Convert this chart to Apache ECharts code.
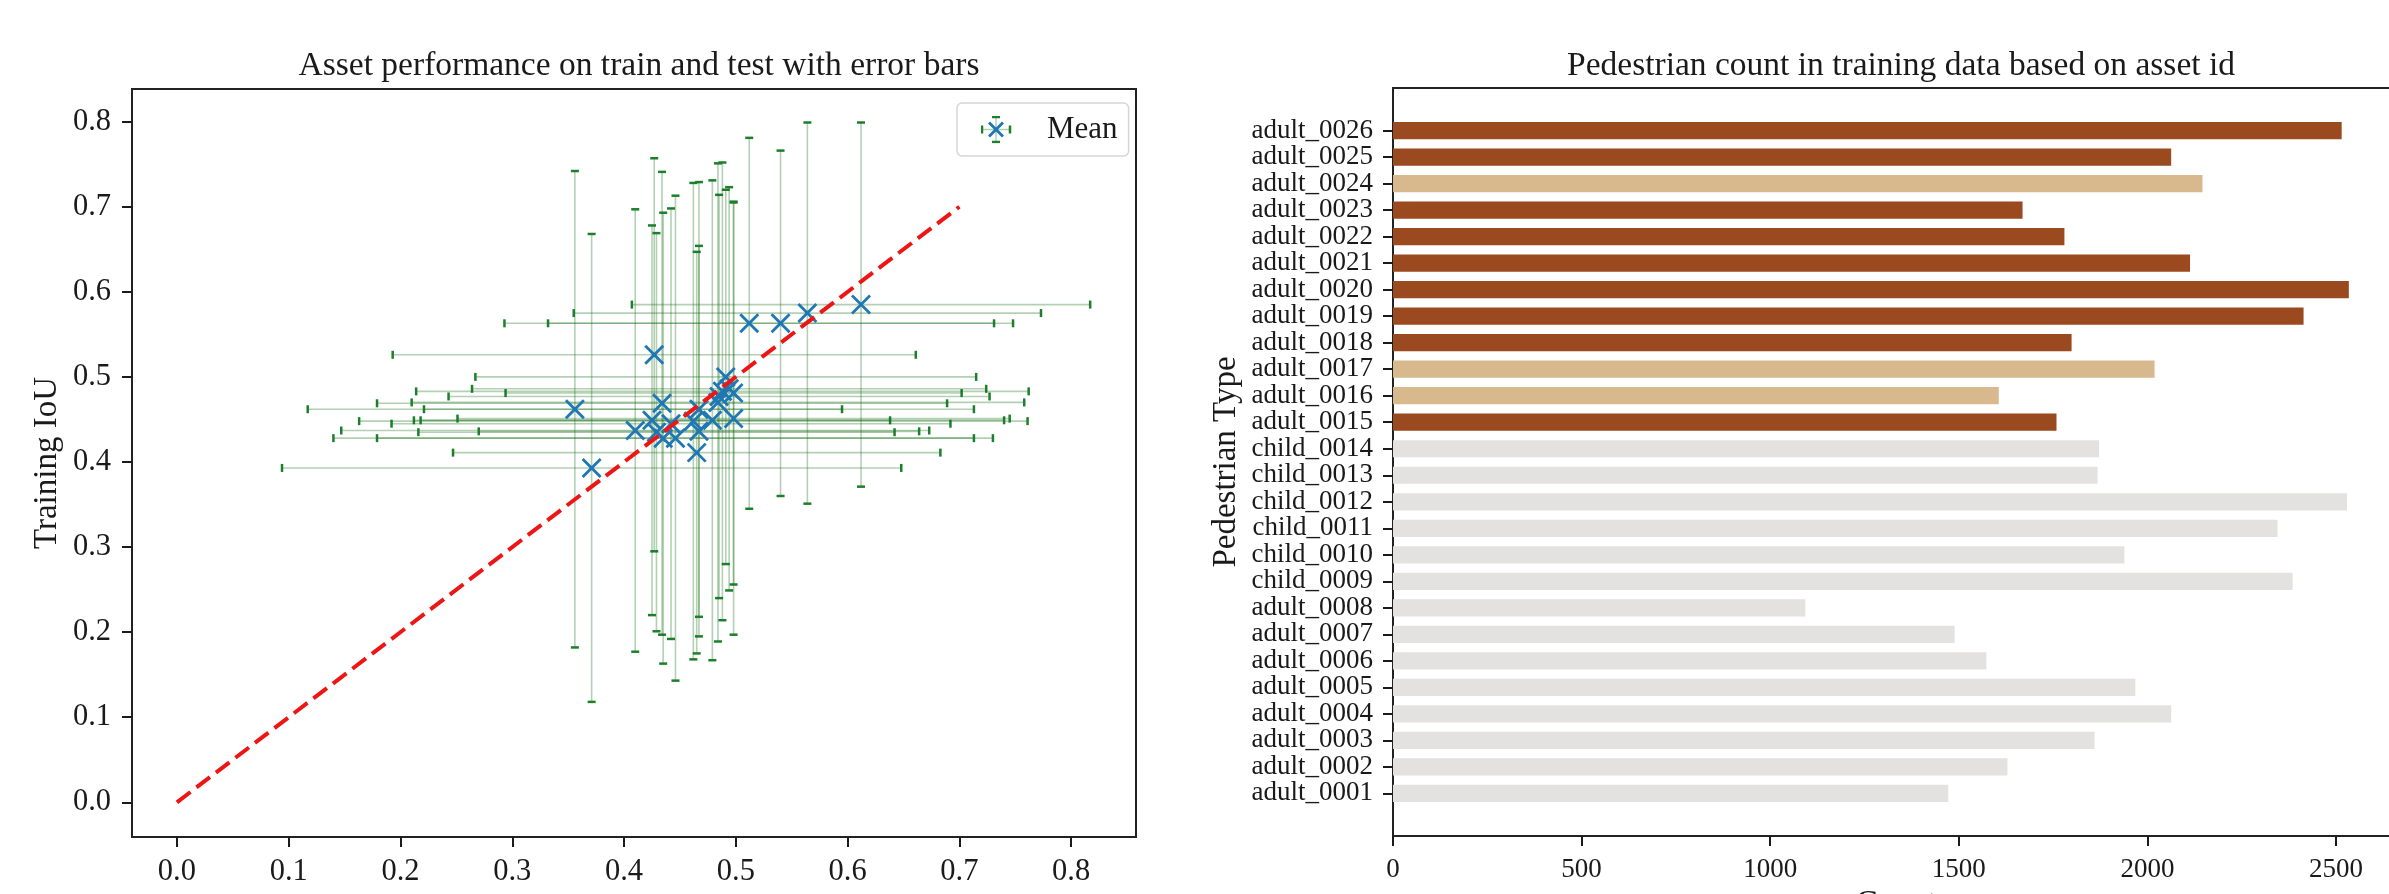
<!DOCTYPE html>
<html lang="en">
<head>
<meta charset="UTF-8">
<title>Asset performance / pedestrian count</title>
<script src="https://cdn.jsdelivr.net/npm/echarts@6/dist/echarts.min.js"></script>
<style>
html, body { margin: 0; padding: 0; background: #fff; }
#chart { width: 2389px; height: 894px; }
</style>
</head>
<body>
<div id="chart"></div>
<script>
// left: mean IoU per asset (test on x, train on y) with std as error bars
var meanX = [0.356, 0.371, 0.410, 0.427, 0.425, 0.429, 0.434, 0.435, 0.442, 0.446, 0.462, 0.467, 0.465,
             0.467, 0.479, 0.485, 0.491, 0.498, 0.494, 0.498, 0.484, 0.512, 0.540, 0.564, 0.612, 0.488];
var meanY = [0.462, 0.393, 0.437, 0.526, 0.449, 0.435, 0.469, 0.428, 0.445, 0.428, 0.448, 0.462, 0.411,
             0.436, 0.449, 0.477, 0.500, 0.481, 0.486, 0.451, 0.470, 0.563, 0.563, 0.575, 0.585, 0.483];
var errX  = [0.239, 0.277, 0.263, 0.234, 0.213, 0.213, 0.255, 0.295, 0.250, 0.267, 0.299, 0.246, 0.218,
             0.197, 0.261, 0.242, 0.224, 0.204, 0.230, 0.247, 0.274, 0.219, 0.208, 0.209, 0.205, 0.274];
var errY  = [0.280, 0.275, 0.260, 0.231, 0.229, 0.234, 0.272, 0.265, 0.253, 0.285, 0.280, 0.267, 0.236,
             0.218, 0.282, 0.237, 0.220, 0.225, 0.237, 0.254, 0.281, 0.218, 0.203, 0.224, 0.214, 0.269];
var diagX = [0, 0.7];
var diagY = [0, 0.7];
var iouTicks = [0, 0.1, 0.2, 0.3, 0.4, 0.5, 0.6, 0.7, 0.8];

// right: pedestrian count per asset id (bottom to top)
var pedTypes = ['adult_0001', 'adult_0002', 'adult_0003', 'adult_0004', 'adult_0005', 'adult_0006',
                'adult_0007', 'adult_0008', 'child_0009', 'child_0010', 'child_0011', 'child_0012',
                'child_0013', 'child_0014', 'adult_0015', 'adult_0016', 'adult_0017', 'adult_0018',
                'adult_0019', 'adult_0020', 'adult_0021', 'adult_0022', 'adult_0023', 'adult_0024',
                'adult_0025', 'adult_0026'];
var pedCount = [1472, 1629, 1860, 2063, 1968, 1573, 1489, 1093, 2385, 1939, 2345, 2529,
                1868, 1872, 1759, 1606, 2019, 1799, 2414, 2534, 2113, 1780, 1669, 2146, 2063, 2515];
var pedGroup = [0, 0, 0, 0, 0, 0, 0, 0, 0, 0, 0, 0, 0, 0, 2, 1, 1, 2, 2, 2, 2, 2, 2, 1, 2, 2];
var countTicks = [0, 500, 1000, 1500, 2000, 2500];

var groupColor = ['#e3e2e0', '#d8b98d', '#9a4a1e'];
var BAR_H = 0.65;   // bar thickness in category units
var FONT = 'Liberation Serif';
var INK = '#1a1a1a';

var legendSvg =
  '<svg xmlns="http://www.w3.org/2000/svg" width="61" height="28" viewBox="0 0 61 28">' +
  '<line x1="1" y1="14" x2="29" y2="14" stroke="#1b7f2b" stroke-opacity="0.35" stroke-width="1.5"/>' +
  '<line x1="15" y1="1" x2="15" y2="27" stroke="#1b7f2b" stroke-opacity="0.35" stroke-width="1.5"/>' +
  '<line x1="1" y1="10" x2="1" y2="18" stroke="#1b7f2b" stroke-width="2.5"/>' +
  '<line x1="29" y1="10" x2="29" y2="18" stroke="#1b7f2b" stroke-width="2.5"/>' +
  '<line x1="11" y1="1.5" x2="19" y2="1.5" stroke="#1b7f2b" stroke-width="2.5"/>' +
  '<line x1="11" y1="26.5" x2="19" y2="26.5" stroke="#1b7f2b" stroke-width="2.5"/>' +
  '<line x1="8" y1="7" x2="22" y2="21" stroke="#1f77b4" stroke-width="2.8"/>' +
  '<line x1="22" y1="7" x2="8" y2="21" stroke="#1f77b4" stroke-width="2.8"/>' +
  '</svg>';

var errData = meanX.map(function (x, i) { return [x, meanY[i], errX[i], errY[i]]; });
var meanData = meanX.map(function (x, i) { return [x, meanY[i]]; });
var diagData = diagX.map(function (x, i) { return [x, diagY[i]]; });
var barData = pedCount.map(function (v, i) { return [v, i, pedGroup[i]]; });
var pedIdx = pedTypes.map(function (n, i) { return i; });
// matplotlib-style 5% margin around the bars
var barSpan = pedTypes.length - 1 + BAR_H;
var yBarMin = -BAR_H / 2 - 0.05 * barSpan;
var yBarMax = pedTypes.length - 1 + BAR_H / 2 + 0.05 * barSpan;
// blank labels at both ends, so echarts' min/max label check does not drop adult_0002 / adult_0025
var pedLabelPos = [yBarMin].concat(pedIdx, [yBarMax]);

function renderErr(params, api) {
  var x = api.value(0), y = api.value(1), ex = api.value(2), ey = api.value(3);
  var l = api.coord([x - ex, y]), r = api.coord([x + ex, y]);
  var t = api.coord([x, y + ey]), b = api.coord([x, y - ey]);
  var thin = { stroke: 'rgba(20,110,20,0.32)', lineWidth: 1.6 };
  var cap = { stroke: '#1b7f2b', lineWidth: 2.5 };
  return {
    type: 'group',
    children: [
      { type: 'line', shape: { x1: l[0], y1: l[1], x2: r[0], y2: r[1] }, style: thin },
      { type: 'line', shape: { x1: t[0], y1: t[1], x2: b[0], y2: b[1] }, style: thin },
      { type: 'line', shape: { x1: l[0], y1: l[1] - 4, x2: l[0], y2: l[1] + 4 }, style: cap },
      { type: 'line', shape: { x1: r[0], y1: r[1] - 4, x2: r[0], y2: r[1] + 4 }, style: cap },
      { type: 'line', shape: { x1: t[0] - 4, y1: t[1], x2: t[0] + 4, y2: t[1] }, style: cap },
      { type: 'line', shape: { x1: b[0] - 4, y1: b[1], x2: b[0] + 4, y2: b[1] }, style: cap }
    ]
  };
}

function renderMean(params, api) {
  var c = api.coord([api.value(0), api.value(1)]);
  var s = 9;
  var st = { stroke: '#1f77b4', lineWidth: 2.8 };
  return {
    type: 'group',
    children: [
      { type: 'line', shape: { x1: c[0] - s, y1: c[1] - s, x2: c[0] + s, y2: c[1] + s }, style: st },
      { type: 'line', shape: { x1: c[0] - s, y1: c[1] + s, x2: c[0] + s, y2: c[1] - s }, style: st }
    ]
  };
}

// horizontal bars on a value y axis, so the margins above/below the bars are kept
function renderBar(params, api) {
  var v = api.value(0), i = api.value(1);
  var p0 = api.coord([0, i + BAR_H / 2]);
  var p1 = api.coord([v, i - BAR_H / 2]);
  return {
    type: 'rect',
    shape: { x: p0[0], y: p0[1], width: p1[0] - p0[0], height: p1[1] - p0[1] },
    style: { fill: groupColor[api.value(2)] }
  };
}

var noLine = { show: false, onZero: false };
var tickStyle = { show: true, inside: false, length: 10, lineStyle: { color: INK, width: 2 } };
function fmt1(v) { return v.toFixed(1); }

var chart = echarts.init(document.getElementById('chart'));
chart.setOption({
  animation: false,
  backgroundColor: '#fff',
  title: [
    { text: 'Asset performance on train and test with error bars', left: 634, top: 44, textAlign: 'center',
      textStyle: { fontFamily: FONT, fontWeight: 'normal', fontSize: 33.5, color: INK } },
    { text: 'Pedestrian count in training data based on asset id', left: 1896, top: 44, textAlign: 'center',
      textStyle: { fontFamily: FONT, fontWeight: 'normal', fontSize: 33.5, color: INK } }
  ],
  legend: {
    data: ['Mean'], left: 957, top: 103, orient: 'vertical',
    itemWidth: 61, itemHeight: 28, padding: [11, 11, 11, 24],
    borderColor: '#d6d6d6', borderWidth: 1.5, borderRadius: 5, backgroundColor: '#fff',
    icon: 'image://data:image/svg+xml;charset=utf-8,' + encodeURIComponent(legendSvg),
    textStyle: { fontFamily: FONT, fontSize: 31, color: INK }
  },
  grid: [
    { left: 132, top: 89, right: 1253, bottom: 57, show: true, borderColor: '#222', borderWidth: 2,
      backgroundColor: 'transparent', outerBoundsMode: 'none' },
    { left: 1393, top: 88, right: -10, bottom: 58, show: true, borderColor: '#222', borderWidth: 2,
      backgroundColor: 'transparent', outerBoundsMode: 'none' }
  ],
  xAxis: [
    { gridIndex: 0, type: 'value', min: -0.0402, max: 0.858,
      axisLine: noLine, splitLine: { show: false },
      axisTick: Object.assign({ customValues: iouTicks }, tickStyle),
      axisLabel: { customValues: iouTicks, formatter: fmt1, showMinLabel: true, showMaxLabel: true,
        fontFamily: FONT, fontSize: 30.5, color: INK, margin: 19 },
      name: 'Testing IoU', nameLocation: 'middle', nameGap: 52,
      nameTextStyle: { fontFamily: FONT, fontSize: 33, color: INK } },
    { gridIndex: 1, type: 'value', min: 0, max: 2667,
      axisLine: noLine, splitLine: { show: false },
      axisTick: Object.assign({ customValues: countTicks }, tickStyle),
      axisLabel: { customValues: countTicks, formatter: function (v) { return String(v); },
        showMinLabel: true, showMaxLabel: true,
        fontFamily: FONT, fontSize: 27, color: INK, margin: 20 },
      name: 'Count', nameLocation: 'middle', nameGap: 52,
      nameTextStyle: { fontFamily: FONT, fontSize: 33, color: INK } }
  ],
  yAxis: [
    { gridIndex: 0, type: 'value', min: -0.0408, max: 0.8384,
      axisLine: noLine, splitLine: { show: false },
      axisTick: Object.assign({ customValues: iouTicks }, tickStyle),
      axisLabel: { customValues: iouTicks, formatter: fmt1, showMinLabel: true, showMaxLabel: true,
        fontFamily: FONT, fontSize: 30.5, color: INK, margin: 21 },
      name: 'Training IoU', nameLocation: 'middle', nameGap: 68, nameRotate: 90,
      nameTextStyle: { fontFamily: FONT, fontSize: 33, color: INK } },
    { gridIndex: 1, type: 'value', min: yBarMin, max: yBarMax,
      axisLine: noLine, splitLine: { show: false },
      axisTick: Object.assign({ customValues: pedIdx }, tickStyle),
      axisLabel: { customValues: pedLabelPos, showMinLabel: false, showMaxLabel: false, hideOverlap: false,
        formatter: function (v) {
          var i = Math.round(v);
          return Math.abs(v - i) < 1e-6 && pedTypes[i] ? pedTypes[i] : '';
        },
        fontFamily: FONT, fontSize: 27, lineHeight: 22, color: INK, margin: 20 },
      name: 'Pedestrian Type', nameLocation: 'middle', nameGap: 150, nameRotate: 90,
      nameTextStyle: { fontFamily: FONT, fontSize: 33, color: INK } }
  ],
  series: [
    { type: 'custom', name: 'errors', xAxisIndex: 0, yAxisIndex: 0, data: errData,
      encode: { x: 0, y: 1 }, renderItem: renderErr, z: 2, silent: true },
    { type: 'custom', name: 'Mean', xAxisIndex: 0, yAxisIndex: 0, data: meanData,
      encode: { x: 0, y: 1 }, renderItem: renderMean, z: 3, silent: true },
    { type: 'line', name: 'diag', xAxisIndex: 0, yAxisIndex: 0, data: diagData, symbol: 'none', z: 4,
      lineStyle: { color: '#ee1515', width: 4, type: [17, 7.5] } },
    { type: 'custom', name: 'count', xAxisIndex: 1, yAxisIndex: 1, data: barData,
      encode: { x: 0, y: 1 }, renderItem: renderBar, silent: true }
  ]
});
</script>
</body>
</html>
